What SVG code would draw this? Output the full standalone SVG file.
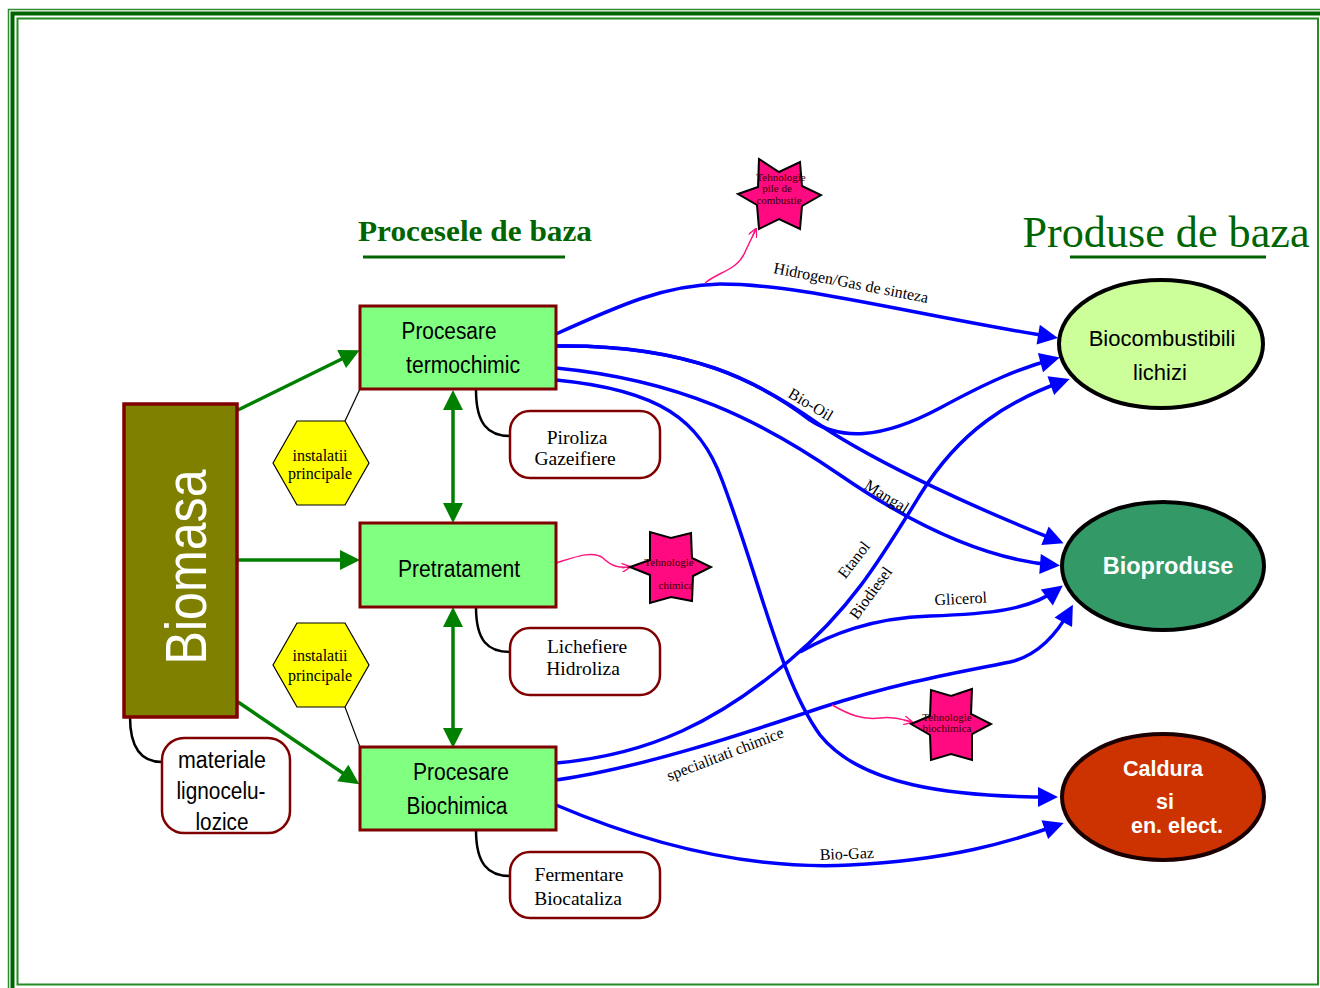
<svg xmlns="http://www.w3.org/2000/svg" width="1320" height="988" viewBox="0 0 1320 988">
<style>
.box{fill:#80FF80;stroke:#800000;stroke-width:3}
.rbox{fill:#FFFFFF;stroke:#800000;stroke-width:2.5}
.hex{fill:#FFFF00;stroke:#000000;stroke-width:1.2}
.star{fill:#FF0A80;stroke:#000000;stroke-width:2}
.narrow{font-family:"Liberation Sans",Arial,sans-serif;font-size:23px;fill:#000000;text-anchor:middle}
.serif{font-family:"Liberation Serif","Times New Roman",serif;fill:#000000;text-anchor:middle}
.lbl{font-family:"Liberation Serif","Times New Roman",serif;font-size:16px;fill:#000000;text-anchor:middle}
.tiny{font-family:"Liberation Serif","Times New Roman",serif;font-size:11px;fill:#330000;text-anchor:middle}
.sans{font-family:"Liberation Sans",Arial,sans-serif;text-anchor:middle}
.blue{fill:none;stroke:#0000FF;stroke-width:3.5;marker-end:url(#ab)}
.green{fill:none;stroke:#008000;stroke-width:3.5}
.pink{fill:none;stroke:#FF1480;stroke-width:1.5;marker-end:url(#ap)}
.blk{fill:none;stroke:#000000;stroke-width:2.5}
</style>
<defs>
<marker id="ab" viewBox="0 0 10 10" refX="7" refY="5" markerWidth="26" markerHeight="20" markerUnits="userSpaceOnUse" orient="auto"><path d="M0,0 L10,5 L0,10 z" fill="#0000FF"/></marker>
<marker id="ag" viewBox="0 0 10 10" refX="8" refY="5" markerWidth="22" markerHeight="20" markerUnits="userSpaceOnUse" orient="auto-start-reverse"><path d="M0,0 L10,5 L0,10 z" fill="#008000"/></marker>
<marker id="ap" viewBox="0 0 10 10" refX="9" refY="5" markerWidth="10" markerHeight="9" markerUnits="userSpaceOnUse" orient="auto"><path d="M0,0 L10,5 L0,10 M0,5 L10,5" fill="none" stroke="#FF1480" stroke-width="1.5"/></marker>
</defs>
<rect width="1320" height="988" fill="#FFFFFF"/>
<g id="border" fill="none">
<rect x="8.5" y="9.5" width="1340" height="1000" stroke="#2E8B2E" stroke-width="1.5"/>
<rect x="12.5" y="13.5" width="1340" height="1000" stroke="#006400" stroke-width="4"/>
<rect x="17.5" y="18.5" width="1300.5" height="966" stroke="#228B22" stroke-width="2"/>
</g>
<g id="titles">
<text x="475" y="241" font-family="Liberation Serif,Times New Roman,serif" font-weight="bold" font-size="29" fill="#006400" text-anchor="middle" textLength="234" lengthAdjust="spacingAndGlyphs">Procesele de baza</text>
<line x1="363" y1="257" x2="565" y2="257" stroke="#006400" stroke-width="3"/>
<text x="1166" y="247" font-family="Liberation Serif,Times New Roman,serif" font-size="44" fill="#006400" text-anchor="middle" textLength="287" lengthAdjust="spacingAndGlyphs">Produse de baza</text>
<line x1="1070" y1="257" x2="1266" y2="257" stroke="#006400" stroke-width="3"/>
</g>
<g id="connectors">
<path class="blue" d="M556,334 C620,305 665,285 720,284 C800,284 900,312 1052,337"/>
<path class="blue" d="M556,346 C690,344 760,382 810,420 C840,440 880,440 940,408 C990,381 1020,368 1054,359"/>
<path class="blue" d="M556,346 C690,344 760,382 820,425 C880,465 980,510 1058,541"/>
<path class="blue" d="M556,368 C680,380 760,420 840,475 C920,530 990,560 1054,565"/>
<path class="blue" d="M556,380 C660,390 700,420 722,480 C760,580 780,680 820,735 C860,785 950,797 1052,797"/>
<path class="blue" d="M556,763 C650,755 720,720 790,660 C850,610 880,560 920,495 C960,430 1010,400 1064,381"/>
<path class="blue" d="M800,652 C830,635 870,618 930,616 C990,614 1030,610 1058,589"/>
<path class="blue" d="M556,780 C640,768 740,735 820,708 C900,682 960,672 1010,662 C1040,655 1058,632 1070,610"/>
<path class="blue" d="M556,805 C650,845 750,870 850,865 C950,860 1010,842 1058,825"/>
<path class="green" marker-end="url(#ag)" d="M238,410 L356,352"/>
<path class="green" marker-end="url(#ag)" d="M238,560 L356,560"/>
<path class="green" marker-end="url(#ag)" d="M238,702 L356,782"/>
<path class="green" marker-start="url(#ag)" marker-end="url(#ag)" d="M453,394 L453,519"/>
<path class="green" marker-start="url(#ag)" marker-end="url(#ag)" d="M453,611 L453,744"/>
<path class="pink" d="M705,283 C718,272 738,270 745,252 L756,229"/>
<path class="pink" d="M556,563 C575,557 593,550 603,558 C612,567 620,568 630,567"/>
<path class="pink" d="M832,705 C850,715 862,720 880,718 C896,716 903,720 912,722"/>
<path class="blk" d="M476,390 C476,424 488,436 510,436"/>
<path class="blk" d="M476,607 C476,641 488,652 510,652"/>
<path class="blk" d="M476,830 C476,864 488,876 510,876"/>
<path class="blk" d="M130,717 C130,748 142,762 162,762"/>
<path d="M345,421 L360,389" stroke="#000" stroke-width="1.2" fill="none"/>
<path d="M345,707 L360,747" stroke="#000" stroke-width="1.2" fill="none"/>
</g>
<g id="edge-labels">
<text class="lbl" transform="translate(850,288) rotate(11)">Hidrogen/Gas de sinteza</text>
<text class="lbl" transform="translate(808,409) rotate(31)">Bio-Oil</text>
<text class="lbl" transform="translate(884,501) rotate(32)">Mangal</text>
<text class="lbl" transform="translate(858,563) rotate(-52)">Etanol</text>
<text class="lbl" transform="translate(875,596) rotate(-54)">Biodiesel</text>
<text class="lbl" transform="translate(961,604) rotate(-3)">Glicerol</text>
<text class="lbl" transform="translate(727,759) rotate(-21)">specialitati chimice</text>
<text class="lbl" transform="translate(847,859) rotate(-2)">Bio-Gaz</text>
</g>
<g id="biomasa">
<rect x="124" y="404" width="113" height="313" fill="#808000" stroke="#800000" stroke-width="3.5"/>
<text transform="translate(206,567) rotate(-90)" font-family="Liberation Sans,Arial,sans-serif" font-size="58" fill="#FFFFFF" text-anchor="middle" textLength="195" lengthAdjust="spacingAndGlyphs">Biomasa</text>
</g>
<g id="termochimic">
<rect class="box" x="360" y="306" width="196" height="83"/>
<text class="narrow" x="449" y="339" textLength="95" lengthAdjust="spacingAndGlyphs">Procesare</text>
<text class="narrow" x="463" y="373" textLength="114" lengthAdjust="spacingAndGlyphs">termochimic</text>
</g>
<g id="pretratament">
<rect class="box" x="360" y="523" width="196" height="84"/>
<text class="narrow" x="459" y="577" textLength="122" lengthAdjust="spacingAndGlyphs">Pretratament</text>
</g>
<g id="biochimica">
<rect class="box" x="360" y="747" width="196" height="83"/>
<text class="narrow" x="461" y="780" textLength="96" lengthAdjust="spacingAndGlyphs">Procesare</text>
<text class="narrow" x="457" y="814" textLength="101" lengthAdjust="spacingAndGlyphs">Biochimica</text>
</g>
<g id="hex1">
<polygon class="hex" points="273,463 297,421 345,421 369,463 345,505 297,505"/>
<text class="serif" font-size="16" x="320" y="461">instalatii</text>
<text class="serif" font-size="16" x="320" y="479">principale</text>
</g>
<g id="hex2">
<polygon class="hex" points="273,665 297,623 345,623 369,665 345,707 297,707"/>
<text class="serif" font-size="16" x="320" y="661">instalatii</text>
<text class="serif" font-size="16" x="320" y="681">principale</text>
</g>
<g id="piroliza">
<rect class="rbox" x="510" y="411" width="150" height="67" rx="20"/>
<text class="serif" font-size="19.5" x="577" y="444">Piroliza</text>
<text class="serif" font-size="19.5" x="575" y="465">Gazeifiere</text>
</g>
<g id="lichefiere">
<rect class="rbox" x="510" y="628" width="150" height="67" rx="20"/>
<text class="serif" font-size="19.5" x="587" y="653">Lichefiere</text>
<text class="serif" font-size="19.5" x="583" y="675">Hidroliza</text>
</g>
<g id="fermentare">
<rect class="rbox" x="510" y="852" width="150" height="66" rx="20"/>
<text class="serif" font-size="19.5" x="579" y="881">Fermentare</text>
<text class="serif" font-size="19.5" x="578" y="905">Biocataliza</text>
</g>
<g id="materiale">
<rect class="rbox" x="162" y="738" width="128" height="95" rx="22"/>
<text class="narrow" x="222" y="768" textLength="88" lengthAdjust="spacingAndGlyphs">materiale</text>
<text class="narrow" x="221" y="799" textLength="89" lengthAdjust="spacingAndGlyphs">lignocelu-</text>
<text class="narrow" x="222" y="830" textLength="53" lengthAdjust="spacingAndGlyphs">lozice</text>
</g>
<g id="star1">
<polygon class="star" points="738,194 758,187 759,159 779,172 800,162 802,186 821,195 802,206 800,229 779,219 759,229 757,205"/>
<text class="tiny" x="781" y="181">Tehnologie</text>
<text class="tiny" x="777" y="192">pile de</text>
<text class="tiny" x="779" y="204">combustie</text>
</g>
<g id="star2">
<polygon class="star" points="630,567 650,560 650,532 671,538 691,533 692,558 711,567 693,576 692,601 671,597 650,603 650,575"/>
<text class="tiny" x="669" y="566">Tehnologie</text>
<text class="tiny" x="676" y="589">chimica</text>
</g>
<g id="star3">
<polygon class="star" points="911,724 930,716 931,690 951,696 972,689 971,714 991,724 972,734 972,760 951,754 931,760 930,735"/>
<text class="tiny" x="947" y="721">Tehnologie</text>
<text class="tiny" x="947" y="732">biochimica</text>
</g>
<g id="biocombustibili">
<ellipse cx="1161" cy="344" rx="102" ry="64" fill="#CCFF99" stroke="#000000" stroke-width="4"/>
<text class="sans" font-size="22" x="1162" y="346" fill="#000">Biocombustibili</text>
<text class="sans" font-size="22" x="1160" y="380" fill="#000">lichizi</text>
</g>
<g id="bioproduse">
<ellipse cx="1163" cy="566" rx="101" ry="64" fill="#339966" stroke="#000000" stroke-width="4"/>
<text class="sans" font-size="23.5" font-weight="bold" x="1168" y="574" fill="#FFFFFF">Bioproduse</text>
</g>
<g id="caldura">
<ellipse cx="1163" cy="797" rx="101" ry="63" fill="#CC3300" stroke="#1a0000" stroke-width="4"/>
<text class="sans" font-size="21.5" font-weight="bold" x="1163" y="776" fill="#FFFFFF">Caldura</text>
<text class="sans" font-size="21.5" font-weight="bold" x="1165" y="809" fill="#FFFFFF">si</text>
<text class="sans" font-size="21.5" font-weight="bold" x="1177" y="833" fill="#FFFFFF">en. elect.</text>
</g>
</svg>
